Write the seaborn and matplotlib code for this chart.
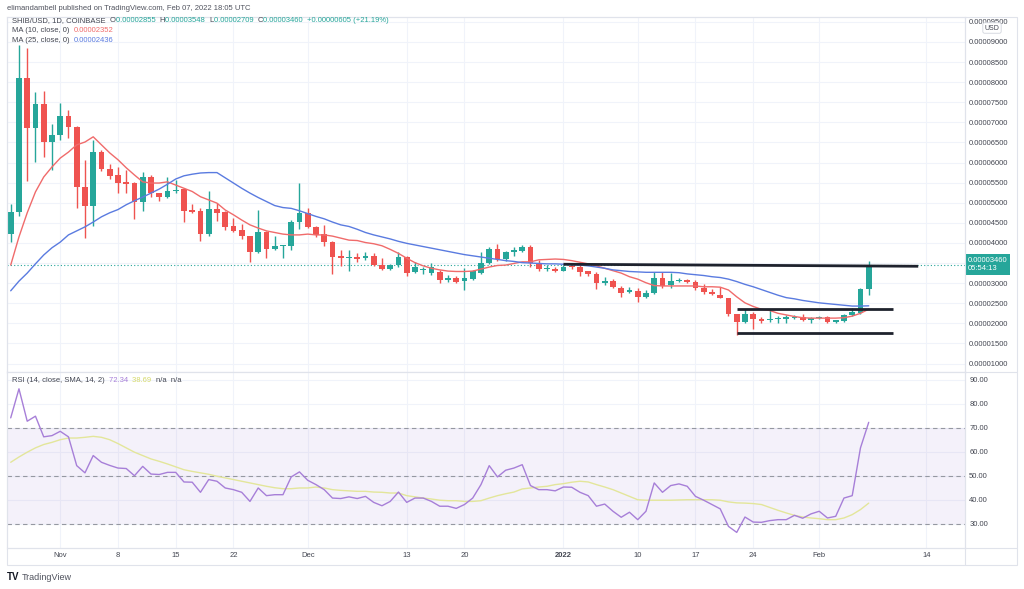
import numpy as np
import pandas as pd
import seaborn as sns
import matplotlib.pyplot as plt
from matplotlib.patches import Rectangle
from matplotlib.lines import Line2D

sns.set_theme(style="white")
plt.rcParams['font.family'] = ['Liberation Sans', 'DejaVu Sans']

# --- data (prices in units of 1e-5 USD) ---
dates = pd.date_range('2021-10-26', '2022-02-07', freq='D')

open_ = [4.22, 4.77, 8.10, 6.85, 7.46, 6.52, 6.69, 7.15, 6.89, 5.38,
         4.92, 6.26, 5.84, 5.69, 5.51, 5.49, 5.01, 5.65, 5.24, 5.15,
         5.29, 5.34, 4.82, 4.80, 4.22, 4.84, 4.76, 4.41, 4.32, 4.17,
         3.77, 4.28, 3.84, 3.92, 3.93, 4.53, 4.75, 4.39, 4.22, 4.03,
         3.67, 3.62, 3.66, 3.62, 3.68, 3.44, 3.35, 3.44, 3.66, 3.27,
         3.33, 3.25, 3.27, 3.08, 3.14, 3.06, 3.10, 3.26, 3.50, 3.85,
         3.59, 3.77, 3.81, 3.89, 3.47, 3.35, 3.36, 3.31, 3.43, 3.39,
         3.29, 3.23, 3.01, 3.06, 2.89, 2.77, 2.81, 2.65, 2.76, 3.14,
         2.95, 3.05, 3.08, 3.03, 2.87, 2.79, 2.71, 2.62, 2.23, 2.04,
         2.23, 2.11, 2.08, 2.10, 2.12, 2.13, 2.15, 2.08, 2.13, 2.16,
         2.04, 2.06, 2.21, 2.25, 2.855]
high = [4.97, 8.93, 8.85, 7.76, 7.79, 6.96, 7.48, 7.31, 6.92, 6.07,
        6.56, 6.30, 5.97, 5.88, 5.82, 5.52, 5.77, 5.69, 5.25, 5.63,
        5.57, 5.36, 4.97, 4.88, 5.28, 5.00, 4.80, 4.61, 4.47, 4.17,
        4.82, 4.30, 4.17, 3.95, 4.57, 5.50, 4.86, 4.42, 4.45, 4.05,
        3.83, 3.83, 3.74, 3.78, 3.74, 3.62, 3.48, 3.78, 3.67, 3.53,
        3.41, 3.51, 3.33, 3.20, 3.18, 3.37, 3.33, 3.77, 3.91, 3.98,
        3.80, 3.91, 3.95, 3.95, 3.58, 3.44, 3.41, 3.44, 3.48, 3.44,
        3.31, 3.27, 3.16, 3.11, 2.92, 2.90, 2.87, 2.82, 3.27, 3.27,
        3.25, 3.14, 3.11, 3.09, 2.97, 2.85, 2.90, 2.64, 2.23, 2.35,
        2.27, 2.15, 2.35, 2.18, 2.20, 2.21, 2.23, 2.16, 2.18, 2.18,
        2.09, 2.23, 2.39, 2.87, 3.548]
low = [4.03, 4.68, 5.53, 6.02, 6.13, 5.82, 6.56, 6.60, 4.88, 4.12,
       4.41, 5.80, 5.60, 5.24, 5.24, 4.59, 4.80, 5.14, 5.05, 5.12,
       5.24, 4.51, 4.75, 4.06, 4.17, 4.55, 4.32, 4.26, 4.10, 3.53,
       3.75, 3.62, 3.83, 3.62, 3.83, 4.34, 4.37, 4.16, 3.93, 3.22,
       3.43, 3.29, 3.53, 3.58, 3.43, 3.33, 3.32, 3.40, 3.18, 3.25,
       3.23, 3.21, 3.01, 3.04, 3.01, 2.83, 3.07, 3.24, 3.47, 3.56,
       3.56, 3.68, 3.78, 3.41, 3.31, 3.31, 3.27, 3.29, 3.34, 3.18,
       3.19, 2.85, 2.95, 2.87, 2.65, 2.75, 2.54, 2.63, 2.73, 2.89,
       2.88, 3.02, 3.00, 2.83, 2.73, 2.70, 2.62, 2.18, 1.71, 2.02,
       1.85, 2.02, 2.04, 2.02, 2.02, 2.10, 2.06, 2.02, 2.11, 2.02,
       2.02, 2.04, 2.19, 2.23, 2.709]
close = [4.77, 8.10, 6.85, 7.46, 6.52, 6.69, 7.15, 6.89, 5.38, 4.92,
         6.26, 5.84, 5.67, 5.50, 5.46, 5.01, 5.65, 5.24, 5.14, 5.30,
         5.32, 4.80, 4.78, 4.22, 4.84, 4.75, 4.39, 4.30, 4.18, 3.77,
         4.28, 3.84, 3.92, 3.93, 4.53, 4.75, 4.39, 4.20, 4.03, 3.64,
         3.62, 3.66, 3.60, 3.68, 3.45, 3.35, 3.45, 3.64, 3.25, 3.39,
         3.35, 3.39, 3.08, 3.14, 3.04, 3.12, 3.29, 3.50, 3.85, 3.59,
         3.77, 3.83, 3.91, 3.50, 3.35, 3.37, 3.31, 3.40, 3.39, 3.27,
         3.22, 3.01, 3.06, 2.91, 2.75, 2.83, 2.66, 2.75, 3.14, 2.93,
         3.05, 3.08, 3.02, 2.87, 2.79, 2.72, 2.62, 2.23, 2.04, 2.23,
         2.10, 2.07, 2.12, 2.13, 2.14, 2.17, 2.08, 2.13, 2.16, 2.04,
         2.08, 2.21, 2.27, 2.855, 3.46]
ma10 = [3.45, 4.15, 4.75, 5.27, 5.64, 5.89, 6.11, 6.26, 6.44, 6.51,
        6.64, 6.44, 6.24, 6.07, 5.87, 5.69, 5.52, 5.49, 5.49, 5.52,
        5.44, 5.36, 5.28, 5.15, 5.07, 4.99, 4.82, 4.70, 4.57, 4.45,
        4.37, 4.30, 4.26, 4.22, 4.20, 4.20, 4.22, 4.20, 4.20, 4.17,
        4.12, 4.07, 4.06, 4.01, 3.98, 3.93, 3.84, 3.74, 3.62, 3.51,
        3.43, 3.37, 3.33, 3.30, 3.29, 3.29, 3.30, 3.35, 3.40, 3.44,
        3.45, 3.49, 3.53, 3.53, 3.58, 3.59, 3.60, 3.59, 3.56, 3.52,
        3.48, 3.43, 3.37, 3.31, 3.25, 3.16, 3.10, 3.01, 2.94, 2.93,
        2.93, 2.93, 2.93, 2.93, 2.91, 2.91, 2.90, 2.83, 2.66, 2.51,
        2.42, 2.35, 2.32, 2.25, 2.21, 2.17, 2.14, 2.13, 2.13, 2.13,
        2.13, 2.14, 2.18, 2.25, 2.352]
ma25 = [2.81, 3.05, 3.25, 3.48, 3.70, 3.88, 4.02, 4.20, 4.30, 4.40,
        4.52, 4.65, 4.75, 4.83, 4.95, 5.05, 5.14, 5.24, 5.34, 5.46,
        5.59, 5.67, 5.71, 5.74, 5.75, 5.75, 5.62, 5.49, 5.36, 5.24,
        5.13, 5.03, 4.93, 4.88, 4.86, 4.80, 4.73, 4.66, 4.60, 4.52,
        4.45, 4.41, 4.34, 4.26, 4.20, 4.15, 4.10, 4.04, 3.99, 3.95,
        3.91, 3.87, 3.83, 3.79, 3.75, 3.71, 3.68, 3.65, 3.62, 3.59,
        3.56, 3.54, 3.51, 3.50, 3.49, 3.48, 3.48, 3.47, 3.46, 3.45,
        3.43, 3.40, 3.37, 3.33, 3.31, 3.29, 3.28, 3.27, 3.27, 3.27,
        3.27, 3.26, 3.23, 3.21, 3.19, 3.16, 3.14, 3.10, 3.04, 2.97,
        2.91, 2.84, 2.77, 2.70, 2.64, 2.61, 2.57, 2.54, 2.51, 2.49,
        2.47, 2.45, 2.43, 2.43, 2.436]
rsi = [74.2, 86.3, 72.8, 74.9, 66.3, 66.8, 68.6, 66.3, 54.3, 51.3,
       58.5, 55.7, 54.4, 53.3, 53.1, 50.1, 54.0, 50.8, 50.6, 51.5,
       51.5, 47.5, 47.4, 43.2, 48.5, 47.8, 45.0, 44.3, 43.2, 39.4,
       45.0, 41.8, 42.2, 42.2, 49.6, 51.7, 48.2, 46.4, 44.3, 40.8,
       40.6, 41.3, 40.6, 41.5, 39.0, 37.6, 39.4, 43.3, 39.0, 40.8,
       40.8, 39.4, 37.4, 37.4, 36.5, 38.1, 40.8, 46.4, 54.3, 49.6,
       52.4, 53.3, 54.7, 46.0, 44.3, 44.3, 43.8, 45.4, 45.3, 43.2,
       41.8, 37.4, 38.3, 35.3, 32.8, 34.9, 31.8, 35.3, 47.1, 43.2,
       46.0, 46.7, 45.7, 41.5, 39.9, 38.1, 36.3, 29.0, 26.5, 32.9,
       30.8, 30.7, 31.4, 31.8, 31.8, 33.6, 32.4, 34.2, 35.3, 32.5,
       33.2, 40.8, 41.8, 61.7, 72.34]
rsi_ma = [55.7, 57.9, 59.9, 61.7, 63.1, 64.0, 65.1, 65.8, 65.8, 66.1,
          66.5, 66.1, 65.1, 63.5, 61.7, 59.9, 58.5, 57.1, 56.1, 55.0,
          53.8, 52.6, 51.9, 51.3, 50.7, 49.9, 49.2, 48.5, 47.8, 47.1,
          46.4, 45.7, 45.1, 44.7, 44.7, 45.0, 45.0, 45.4, 45.0, 44.3,
          44.0, 43.8, 43.6, 43.6, 43.3, 43.2, 42.9, 42.9, 41.8, 41.3,
          40.8, 40.4, 39.9, 39.7, 39.7, 39.4, 39.4, 39.7, 40.8, 41.8,
          42.6, 43.3, 44.6, 45.0, 45.4, 45.7, 46.4, 46.8, 47.4, 47.8,
          47.5, 46.4, 45.4, 44.3, 42.9, 41.5, 40.1, 39.9, 39.9, 39.9,
          39.9, 40.0, 40.1, 40.1, 40.1, 40.1, 39.9, 39.2, 38.8, 38.7,
          38.5, 38.1, 36.9, 35.7, 34.6, 33.6, 32.9, 32.5, 32.2, 31.8,
          31.8, 32.5, 33.9, 36.0, 38.69]

# drawn trend lines: (start date, end date, start price, end price)
levels = [('2022-01-01', '2022-02-13', 3.47, 3.42),
          ('2022-01-22', '2022-02-10', 2.35, 2.35),
          ('2022-01-22', '2022-02-10', 1.77, 1.77)]
last_price = 3.46

tick_dates = ['2021-11-01', '2021-11-08', '2021-11-15', '2021-11-22', '2021-12-01',
              '2021-12-13', '2021-12-20', '2022-01-01', '2022-01-10', '2022-01-17',
              '2022-01-24', '2022-02-01', '2022-02-14']
tick_labels = ['Nov', '8', '15', '22', 'Dec', '13', '20', '2022', '10', '17', '24', 'Feb', '14']

SCALE = 1e-5
GREEN, RED = '#26a69a', '#ef5350'
TXT = '#434651'
GRID = '#f0f3fa'
BORDER = '#e0e3eb'

df = pd.DataFrame({'day': np.arange(len(dates)),
                   'open': np.array(open_) * SCALE, 'high': np.array(high) * SCALE,
                   'low': np.array(low) * SCALE, 'close': np.array(close) * SCALE,
                   'ma10': np.array(ma10) * SCALE, 'ma25': np.array(ma25) * SCALE,
                   'rsi': rsi, 'rsi_ma': rsi_ma})
t0 = dates[0]
def day_of(d):
    return (pd.Timestamp(d) - t0).days
ticks = [day_of(d) for d in tick_dates]

W, H = 1024, 589
fig = plt.figure(figsize=(W / 100, H / 100), dpi=100)
fig.patch.set_facecolor('white')
def fx(px): return px / W
def fy(py): return 1 - py / H

L, R = 7, 965
ax = fig.add_axes([fx(L), fy(372), fx(R - L), fy(17) - fy(372)])
ax2 = fig.add_axes([fx(L), fy(548), fx(R - L), fy(372) - fy(548)], sharex=ax)

# --- candles ---
up = df['close'] >= df['open']
colors = np.where(up, GREEN, RED)
ax.vlines(df['day'], df['low'], df['high'], colors=colors, lw=1, zorder=3)
body_lo = np.minimum(df['open'], df['close'])
body_h = np.maximum((df['close'] - df['open']).abs(), 0.03 * SCALE)
ax.bar(df['day'], body_h, bottom=body_lo, width=0.68, color=colors, linewidth=0, zorder=4)

sns.lineplot(data=df, x='day', y='ma10', ax=ax, color='#f06b6b', lw=1, zorder=5)
sns.lineplot(data=df, x='day', y='ma25', ax=ax, color='#5a7be0', lw=1, zorder=5)

for d0, d1, p0, p1 in levels:
    ax.plot([day_of(d0), day_of(d1)], [p0 * SCALE, p1 * SCALE], color='#1e222d',
            lw=2, solid_capstyle='butt', zorder=6)
ax.axhline(last_price * SCALE, color=GREEN, lw=0.8, ls=(0, (1, 2)), zorder=2)

ax.set_xlim(-0.45, 115.67)
ax.set_ylim(0.79 * SCALE, 9.62 * SCALE)
yt = np.arange(1.0, 9.51, 0.5) * SCALE
ax.set_yticks(yt)
# the 0.00003500 label sits under the last-price box, as in the reference
ax.set_yticklabels(['' if abs(v - 3.5 * SCALE) < 1e-9 else f'{v:.8f}' for v in yt])
ax.yaxis.tick_right()
ax.tick_params(axis='y', length=0, pad=3, labelsize=5.5, labelcolor=TXT)
ax.tick_params(axis='x', length=0, labelbottom=False)
ax.set_xticks(ticks)
ax.grid(True, color=GRID, lw=0.8)
ax.set_xlabel('')
ax.set_ylabel('')

ax.annotate(f'{last_price * SCALE:.8f}\n05:54:13', xy=(1, last_price * SCALE),
            xycoords=('axes fraction', 'data'), xytext=(2.2, 0), textcoords='offset points',
            ha='left', va='center', fontsize=5.5, color='white', linespacing=1.25,
            bbox=dict(boxstyle='square,pad=0.35', fc=GREEN, ec='none'),
            annotation_clip=False, zorder=20)

# --- RSI pane ---
ax2.axhspan(30, 70, color='#7e57c2', alpha=0.08, lw=0, zorder=1)
for lvl in (30, 50, 70):
    ax2.axhline(lvl, color='#9598a1', lw=0.8, ls=(0, (4, 3)), zorder=2)
sns.lineplot(data=df, x='day', y='rsi_ma', ax=ax2, color='#e3e69a', lw=1, zorder=4)
sns.lineplot(data=df, x='day', y='rsi', ax=ax2, color='#a77fd8', lw=1, zorder=5)
ax2.set_ylim(20, 93.3)
ax2.set_yticks([30, 40, 50, 60, 70, 80, 90])
ax2.set_yticklabels([f'{v:.2f}' for v in [30, 40, 50, 60, 70, 80, 90]])
ax2.yaxis.tick_right()
ax2.tick_params(axis='y', length=0, pad=3, labelsize=5.5, labelcolor=TXT)
ax2.set_xticks(ticks)
ax2.set_xticklabels(tick_labels)
ax2.tick_params(axis='x', length=0, pad=3, labelsize=5.5, labelcolor=TXT)
for lab in ax2.get_xticklabels():
    if lab.get_text() == '2022':
        lab.set_fontweight('bold')
ax2.grid(True, color=GRID, lw=0.8)
ax2.set_xlabel('')
ax2.set_ylabel('')

for a in (ax, ax2):
    for s in a.spines.values():
        s.set_color(BORDER)
        s.set_linewidth(0.8)

# outer frame of the chart widget
fig.add_artist(Rectangle((fx(L), fy(565)), fx(1017 - L), fy(17) - fy(565),
                         transform=fig.transFigure, fill=False, ec=BORDER, lw=0.8))
fig.add_artist(Line2D([fx(L), fx(1017)], [fy(548), fy(548)], transform=fig.transFigure,
                      color=BORDER, lw=0.8))
fig.add_artist(Line2D([fx(L), fx(1017)], [fy(372), fy(372)], transform=fig.transFigure,
                      color=BORDER, lw=0.8))
fig.add_artist(Line2D([fx(R), fx(R)], [fy(17), fy(565)], transform=fig.transFigure,
                      color=BORDER, lw=0.8))

# --- texts ---
renderer = fig.canvas.get_renderer()
def text_run(x, y, parts, size=5.5):
    x = fx(x)
    for s, c in parts:
        t = fig.text(x, fy(y), s, color=c, fontsize=size, va='center', ha='left', zorder=30)
        bb = t.get_window_extent(renderer=renderer)
        x = bb.x1 / fig.bbox.width

text_run(7, 8, [('elimandambell published on TradingView.com, Feb 07, 2022 18:05 UTC', '#50535e')])
text_run(12, 21, [('SHIB/USD, 1D, COINBASE  ', TXT), ('O', TXT), ('0.00002855  ', GREEN),
                  ('H', TXT), ('0.00003548  ', GREEN), ('L', TXT), ('0.00002709  ', GREEN),
                  ('C', TXT), ('0.00003460  ', GREEN), ('+0.00000605 (+21.19%)', GREEN)])
text_run(12, 31, [('MA (10, close, 0)  ', TXT), ('0.00002352', '#f06b6b')])
text_run(12, 41, [('MA (25, close, 0)  ', TXT), ('0.00002436', '#5a7be0')])
text_run(12, 381, [('RSI (14, close, SMA, 14, 2)  ', TXT), ('72.34  ', '#a77fd8'),
                   ('38.69  ', '#d6da6a'), ('n/a  n/a', TXT)])

fig.text(fx(992), fy(28), 'USD', fontsize=5, color=TXT, ha='center', va='center',
         bbox=dict(boxstyle='round,pad=0.25', fc='white', ec='#d1d4dc', lw=0.6), zorder=30)

fig.text(fx(7), fy(577), 'TV', fontsize=7, fontweight='bold', color='#131722', va='center')
fig.text(fx(22), fy(577), 'TradingView', fontsize=6.5, color='#50535e', va='center')

fig.savefig('out.png', dpi=100, facecolor='white')
